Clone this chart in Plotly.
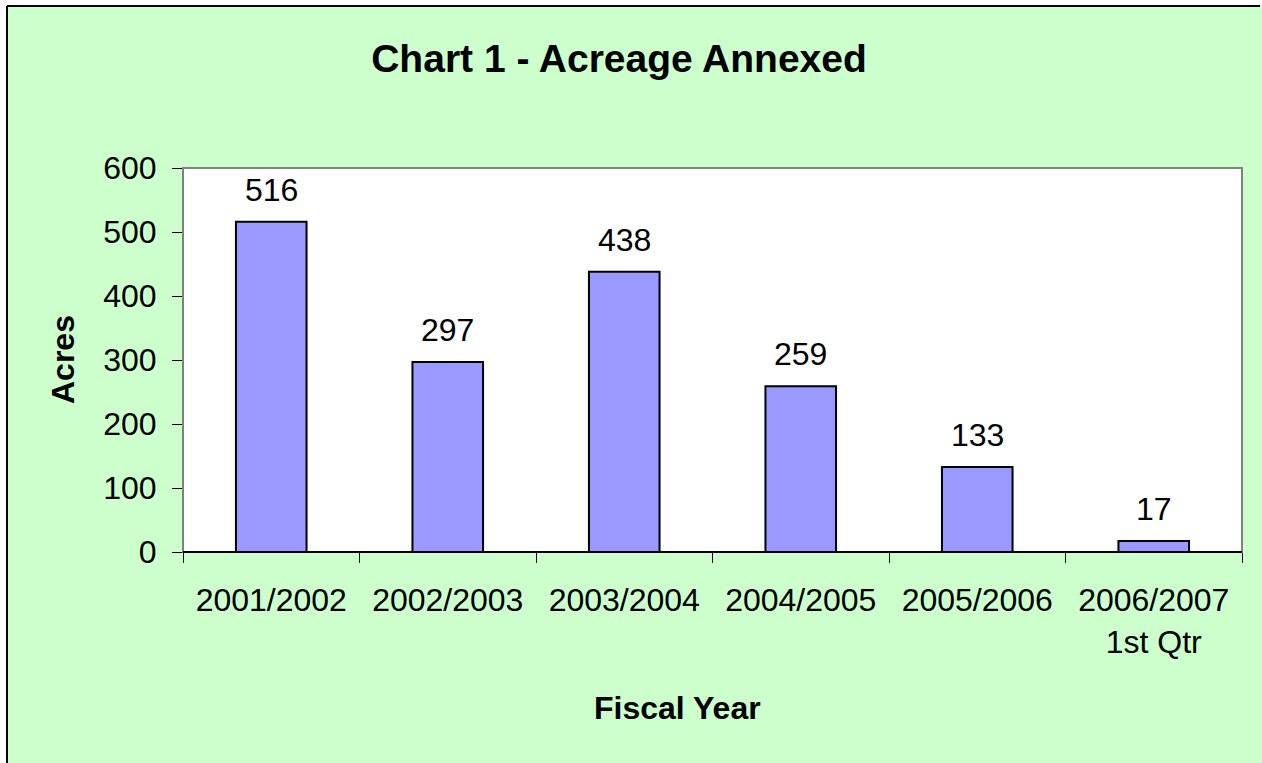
import plotly.graph_objects as go

categories = ["2001/2002", "2002/2003", "2003/2004", "2004/2005", "2005/2006", "2006/2007<br>1st Qtr"]
acres = [516, 297, 438, 259, 133, 17]
y_ticks = [0, 100, 200, 300, 400, 500, 600]

FONT = "Liberation Sans, Arial, sans-serif"
W, H = 1262, 763
L, R, T, B = 183, 20, 168, 211
PW = W - L - R
PH = H - T - B

def px_x(x):
    return (x - L) / PW

def px_y(y):
    return (H - B - y) / PH

fig = go.Figure()
fig.add_trace(go.Bar(
    x=categories, y=acres,
    marker=dict(color="#9999FF", line=dict(color="black", width=2)),
    hoverinfo="x+y",
))

annotations = []
for c, v in zip(categories, acres):
    annotations.append(dict(x=c, y=v, xref="x", yref="y", text=str(v), showarrow=False,
                            yanchor="bottom", yshift=12,
                            font=dict(family=FONT, size=32, color="black")))
annotations.append(dict(x=px_x(63), y=0.5, xref="paper", yref="paper", text="<b>Acres</b>",
                        textangle=-90, showarrow=False, xanchor="center", yanchor="middle",
                        font=dict(family=FONT, size=32, color="black")))
annotations.append(dict(x=px_x(677), y=px_y(708), xref="paper", yref="paper", text="<b>Fiscal Year</b>",
                        showarrow=False, xanchor="center", yanchor="middle",
                        font=dict(family=FONT, size=32, color="black")))

shapes = [
    # white strips outside the chart area (top and left)
    dict(type="rect", xref="paper", yref="paper", layer="below",
         x0=px_x(-5), x1=px_x(W + 5), y0=px_y(6), y1=px_y(-5),
         fillcolor="white", line=dict(width=0)),
    dict(type="rect", xref="paper", yref="paper", layer="below",
         x0=px_x(-5), x1=px_x(7), y0=px_y(H + 5), y1=px_y(-5),
         fillcolor="white", line=dict(width=0)),
    # chart area border: top and left
    dict(type="line", xref="paper", yref="paper", layer="below",
         x0=px_x(7), x1=px_x(W - 2), y0=px_y(6), y1=px_y(6),
         line=dict(color="black", width=2)),
    dict(type="line", xref="paper", yref="paper", layer="below",
         x0=px_x(7), x1=px_x(7), y0=px_y(6), y1=px_y(H + 5),
         line=dict(color="black", width=2)),
    # plot area white background
    dict(type="rect", xref="paper", yref="paper", layer="below",
         x0=0, x1=1, y0=0, y1=1, fillcolor="white", line=dict(width=0)),
    # plot area border (gray)
    dict(type="rect", xref="paper", yref="paper", layer="above",
         x0=0, x1=1, y0=0, y1=1, line=dict(color="#808080", width=2)),
    # bottom axis line
    dict(type="line", xref="paper", yref="paper", layer="above",
         x0=0, x1=1, y0=0, y1=0, line=dict(color="black", width=2)),
]

fig.update_layout(
    width=W, height=H, autosize=False,
    margin=dict(l=L, r=R, t=T, b=B, pad=0),
    paper_bgcolor="#CCFFCC",
    plot_bgcolor="white",
    bargap=0.6,
    showlegend=False,
    title=dict(text="<b>Chart 1 - Acreage Annexed</b>", x=619 / W, xanchor="center",
               y=1 - 58 / H, yanchor="middle",
               font=dict(family=FONT, size=39, color="black")),
    font=dict(family=FONT, size=32, color="black"),
    annotations=annotations,
    shapes=shapes,
)
fig.update_xaxes(type="category", range=[-0.5, 5.5], tickson="boundaries",
                 ticks="outside", ticklen=10, tickwidth=1, tickcolor="black",
                 showline=False, showgrid=False, zeroline=False,
                 ticklabelstandoff=26,
                 tickfont=dict(family=FONT, size=32, color="black"))
fig.update_yaxes(range=[0, 600], tickvals=y_ticks, ticks="outside", ticklen=10,
                 tickwidth=1, tickcolor="black", showline=False, showgrid=False,
                 zeroline=False, ticklabelstandoff=9,
                 tickfont=dict(family=FONT, size=32, color="black"))

fig.write_html("out.html", config={"displayModeBar": False},
               post_script="document.body.style.margin='0';document.body.style.overflow='hidden';")
